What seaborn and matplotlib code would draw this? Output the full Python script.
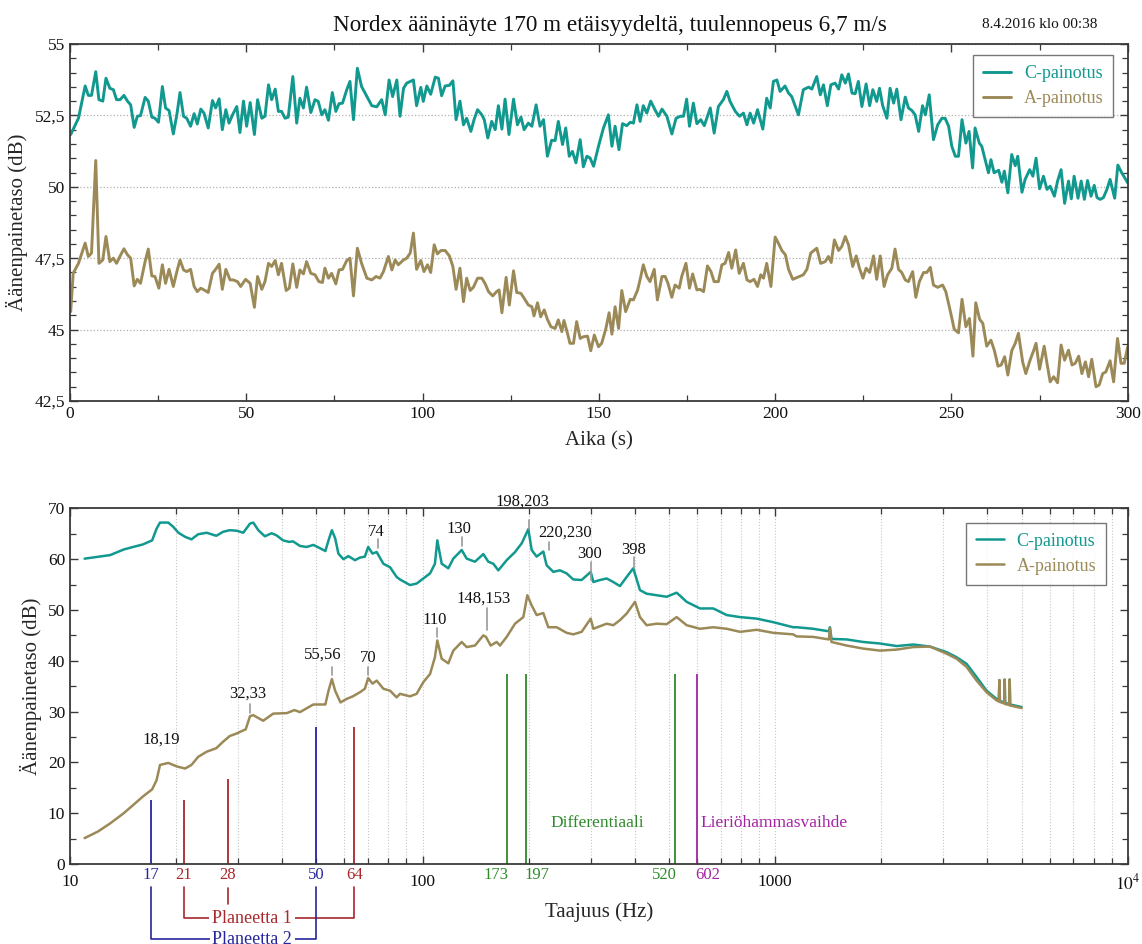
import numpy as np
import pandas as pd
import matplotlib
matplotlib.use("Agg")
import matplotlib.pyplot as plt
import seaborn as sns
from matplotlib.ticker import MultipleLocator, FixedLocator, FixedFormatter, FuncFormatter, LogLocator, NullFormatter

# ---------------- data: time series (top) ----------------
time_c = [0.2, 2.4, 4.3, 5.2, 6.1, 7.3, 8.2, 9.3, 10.2, 11.3, 12.3, 13.2, 14.2, 15.3, 16.3, 17.2, 18.2, 19.1, 20.0, 21.3,
          22.2, 23.2, 24.1, 25.1, 26.2, 27.1, 28.1, 29.3, 30.3, 31.2, 32.2, 33.1, 34.2, 35.2, 36.1, 37.1, 38.0, 39.2, 40.4, 41.3,
          42.3, 43.2, 44.2, 45.1, 46.1, 47.3, 48.2, 49.2, 50.1, 51.1, 52.3, 53.2, 54.4, 55.3, 56.3, 57.2, 58.2, 59.1, 60.0, 61.0,
          61.9, 63.2, 64.3, 65.2, 66.2, 67.1, 68.3, 69.5, 70.4, 71.4, 72.3, 73.3, 74.4, 75.4, 76.3, 77.3, 78.5, 79.4, 80.4, 81.5,
          82.7, 84.2, 85.6, 87.0, 88.4, 89.4, 90.5, 91.5, 92.7, 93.6, 94.6, 95.5, 97.4, 98.3, 99.5, 100.2, 101.2, 102.3, 103.6, 104.5,
          105.4, 106.4, 107.6, 108.6, 109.5, 110.6, 111.6, 112.5, 113.7, 114.6, 115.6, 116.8, 117.5, 118.5, 119.6, 120.6, 121.5, 122.5, 123.4, 124.5,
          125.8, 126.9, 127.9, 128.8, 130.0, 131.0, 132.2, 133.3, 134.3, 135.4, 136.6, 137.6, 138.5, 139.7, 140.6, 141.6, 142.5, 143.5, 144.7, 145.6,
          146.6, 147.5, 148.5, 149.9, 151.3, 152.7, 153.7, 154.6, 155.7, 156.7, 157.9, 158.9, 159.8, 160.8, 161.7, 162.6, 163.6, 164.7, 165.9, 166.9,
          167.9, 169.3, 170.7, 171.9, 173.1, 174.0, 174.9, 175.7, 176.8, 177.8, 178.9, 179.9, 181.6, 182.7, 183.9, 185.3, 186.3, 187.2, 188.7, 189.9,
          191.0, 192.0, 192.9, 193.9, 195.0, 196.5, 197.6, 198.6, 199.5, 200.5, 201.4, 202.8, 203.8, 204.7, 206.6, 208.0, 209.5, 210.4, 211.8, 212.8,
          213.7, 214.8, 215.8, 217.0, 218.0, 218.9, 219.9, 220.8, 221.8, 222.7, 223.6, 224.6, 225.8, 226.8, 227.7, 228.8, 229.6, 230.5, 231.7, 232.6,
          233.6, 234.5, 235.7, 236.9, 237.8, 238.8, 239.7, 240.7, 241.8, 242.6, 243.7, 244.9, 246.1, 247.3, 248.2, 249.2, 250.1, 251.1, 252.0, 253.0,
          254.1, 255.0, 256.0, 256.7, 257.9, 258.6, 259.6, 260.5, 261.2, 262.1, 263.4, 264.3, 265.0, 266.0, 267.1, 268.1, 268.8, 270.0, 270.9, 272.2,
          273.1, 274.0, 275.0, 276.1, 277.1, 278.0, 279.2, 280.1, 281.1, 282.1, 283.2, 284.0, 284.8, 285.9, 286.8, 287.7, 288.6, 289.6, 290.5, 291.3,
          292.2, 293.1, 294.1, 295.0, 296.3, 297.2, 298.3, 300.0]
level_c = [51.83, 52.4, 53.53, 53.2, 53.2, 54.03, 53.05, 53.0, 53.8, 53.45, 53.4, 53.05, 53.05, 53.2, 53.0, 52.87, 52.08, 52.47, 52.49, 53.13,
           53.0, 52.44, 52.4, 52.26, 53.51, 52.76, 52.67, 51.85, 52.52, 53.3, 52.47, 52.4, 52.12, 52.56, 52.2, 52.72, 52.58, 52.06, 53.02, 52.76,
           53.08, 52.0, 52.7, 52.23, 52.52, 52.81, 51.9, 53.0, 52.12, 52.95, 51.83, 53.05, 52.4, 52.47, 53.57, 53.05, 53.42, 52.64, 52.64, 52.4,
           52.44, 53.86, 52.23, 53.1, 52.76, 53.49, 52.6, 53.05, 52.99, 52.52, 52.7, 52.33, 53.3, 52.64, 52.91, 52.93, 53.4, 53.69, 52.35, 54.15,
           53.51, 53.16, 52.84, 52.8, 53.05, 52.52, 53.74, 53.16, 53.74, 52.47, 53.45, 53.63, 53.74, 52.84, 53.48, 52.99, 53.53, 53.24, 53.84, 53.8,
           53.19, 53.53, 53.55, 53.71, 52.35, 53.0, 52.17, 52.4, 51.94, 52.35, 52.7, 52.52, 52.35, 51.71, 52.29, 52.0, 52.84, 52.02, 53.07, 51.83,
           53.07, 52.17, 52.44, 52.0, 52.23, 52.12, 52.87, 52.12, 52.35, 51.07, 51.63, 51.62, 52.29, 51.48, 52.06, 51.07, 51.24, 50.84, 51.65, 50.7,
           51.07, 51.01, 50.72, 51.42, 52.06, 52.52, 51.42, 52.12, 51.3, 52.21, 52.14, 52.26, 52.23, 52.87, 52.29, 52.84, 52.58, 53.0, 52.7, 52.47,
           52.72, 52.47, 51.85, 52.4, 52.47, 52.47, 53.07, 52.12, 52.93, 52.21, 52.35, 52.14, 52.76, 51.88, 52.81, 53.05, 53.34, 52.99, 52.64, 52.47,
           52.58, 52.17, 52.58, 52.23, 52.7, 52.02, 53.1, 52.76, 53.69, 53.74, 53.34, 53.53, 53.28, 53.16, 52.52, 53.4, 53.49, 53.42, 53.86, 53.22,
           53.57, 52.84, 53.57, 53.63, 53.42, 53.92, 53.63, 53.95, 53.28, 53.26, 53.69, 52.81, 53.6, 52.84, 53.4, 52.99, 53.45, 52.84, 52.4, 53.45,
           52.93, 53.42, 52.35, 53.14, 52.76, 52.67, 52.52, 51.94, 52.84, 52.52, 53.22, 51.65, 52.17, 52.4, 52.4, 52.12, 51.42, 51.07, 51.07, 52.35,
           51.53, 51.94, 50.66, 52.06, 51.53, 51.42, 50.93, 50.49, 50.95, 50.49, 50.58, 50.16, 50.55, 49.79, 51.13, 50.74, 51.07, 49.81, 50.26, 50.6,
           50.37, 51.0, 49.93, 50.37, 49.91, 50.02, 49.67, 50.2, 50.6, 49.42, 50.2, 49.58, 50.37, 49.6, 50.2, 49.56, 50.22, 49.67, 50.05, 49.62,
           49.56, 49.62, 49.91, 50.26, 49.6, 50.76, 50.49, 50.14]

time_a = [0.2, 0.9, 2.4, 4.3, 5.2, 6.1, 7.3, 8.2, 9.3, 10.2, 11.3, 12.3, 13.2, 14.4, 15.3, 16.3, 17.2, 18.2, 19.1, 20.0,
          21.3, 22.2, 23.2, 24.1, 25.2, 26.2, 27.1, 28.1, 29.3, 30.3, 31.2, 32.2, 33.1, 34.2, 35.2, 36.1, 37.1, 38.0, 39.2, 40.4,
          41.3, 42.3, 43.2, 44.2, 45.4, 46.3, 47.5, 48.4, 49.8, 51.1, 52.3, 53.2, 54.4, 55.3, 56.3, 57.2, 58.2, 59.1, 60.0, 61.3,
          62.2, 63.2, 64.3, 65.2, 66.2, 67.1, 68.3, 69.5, 70.6, 71.6, 72.3, 73.3, 74.2, 75.4, 76.3, 77.3, 78.5, 79.4, 80.4, 81.5,
          82.7, 84.2, 85.6, 86.8, 87.9, 88.9, 90.3, 91.3, 92.2, 93.1, 94.6, 95.5, 96.5, 97.4, 98.3, 99.5, 100.4, 101.4, 102.3, 103.3,
          104.2, 105.2, 106.4, 107.6, 108.6, 109.5, 110.6, 111.6, 112.5, 113.5, 114.4, 115.6, 116.8, 117.7, 118.7, 119.9, 121.0, 121.7, 122.5, 123.7,
          124.6, 125.8, 126.7, 127.9, 128.8, 130.0, 131.0, 131.6, 132.6, 133.5, 134.5, 135.4, 136.4, 137.6, 138.5, 139.5, 140.1, 141.1, 141.8, 142.8,
          143.7, 144.7, 145.6, 146.8, 147.7, 148.7, 149.9, 150.8, 152.0, 152.9, 153.7, 154.6, 155.6, 156.5, 157.6, 158.9, 159.8, 161.0, 161.9, 162.6,
          163.6, 164.5, 165.7, 166.6, 167.9, 168.8, 169.6, 170.7, 171.6, 172.8, 173.5, 174.7, 175.7, 176.6, 177.8, 178.7, 179.7, 180.8, 181.8, 182.7,
          183.9, 184.9, 185.8, 186.8, 187.7, 188.8, 189.8, 191.0, 192.0, 192.9, 194.0, 195.0, 195.9, 196.7, 197.6, 198.8, 200.0, 200.9, 201.9, 202.9,
          203.8, 205.0, 206.9, 208.0, 209.0, 210.1, 211.8, 212.9, 214.2, 215.1, 215.9, 216.8, 218.0, 218.9, 219.9, 220.8, 222.0, 223.0, 223.9, 224.9,
          225.8, 226.8, 227.9, 228.8, 229.8, 230.9, 231.9, 233.1, 234.0, 235.0, 235.9, 236.9, 237.8, 239.0, 239.9, 240.9, 242.1, 243.0, 244.0, 244.9,
          246.1, 247.5, 248.4, 249.6, 250.8, 252.0, 253.0, 254.1, 255.1, 256.1, 256.9, 258.0, 258.9, 260.0, 261.2, 262.2, 263.2, 264.1, 265.1, 266.0,
          267.1, 268.1, 269.0, 270.2, 271.1, 272.3, 273.3, 274.0, 275.0, 276.3, 277.1, 278.0, 279.0, 280.1, 281.1, 282.1, 283.2, 284.2, 285.1, 286.1,
          287.0, 288.0, 288.9, 289.8, 291.0, 291.9, 292.9, 293.8, 295.0, 296.0, 297.1, 298.1, 299.0, 300.0]
level_a = [45.63, 46.97, 47.32, 48.03, 47.56, 47.68, 50.92, 47.32, 47.44, 48.26, 47.38, 47.5, 47.32, 47.62, 47.83, 47.62, 47.5, 46.53, 46.76, 46.62,
           47.38, 47.82, 46.88, 46.86, 46.45, 47.27, 46.62, 47.11, 46.51, 47.03, 47.44, 47.09, 47.03, 47.11, 46.51, 46.33, 46.45, 46.39, 46.3, 46.97,
           47.11, 47.29, 46.41, 47.11, 46.74, 46.74, 46.68, 46.51, 46.76, 46.62, 45.78, 46.86, 46.41, 46.68, 47.32, 47.21, 47.42, 46.92, 47.32, 46.37,
           46.45, 47.3, 46.48, 47.09, 46.95, 47.38, 46.97, 46.92, 46.68, 46.65, 47.15, 46.8, 46.97, 46.6, 47.09, 47.11, 47.42, 47.5, 46.18, 47.85,
           47.32, 46.8, 46.74, 46.86, 46.8, 47.03, 47.56, 47.09, 47.44, 47.27, 47.44, 47.5, 47.68, 48.38, 47.11, 47.42, 47.03, 47.27, 47.0, 47.97,
           47.65, 47.77, 47.77, 47.58, 47.21, 46.41, 47.15, 45.98, 46.8, 46.37, 46.48, 46.8, 46.8, 46.62, 46.33, 46.18, 46.33, 46.39, 45.59, 46.83,
           45.86, 47.06, 46.3, 46.27, 46.1, 45.86, 45.8, 45.48, 45.94, 45.45, 45.69, 45.36, 45.1, 45.04, 45.34, 44.93, 45.32, 44.87, 44.52, 44.52,
           45.28, 44.69, 44.75, 44.77, 44.26, 44.81, 44.4, 44.52, 45.04, 45.59, 44.84, 45.8, 45.04, 46.37, 45.63, 46.06, 46.04, 46.39, 46.86, 47.27,
           46.86, 46.68, 47.11, 46.04, 46.86, 46.86, 46.62, 46.13, 46.56, 46.45, 46.86, 47.32, 46.45, 46.95, 46.39, 46.41, 46.33, 47.23, 47.03, 46.68,
           46.68, 47.27, 47.32, 47.7, 47.15, 47.79, 46.97, 47.32, 46.74, 46.68, 46.76, 46.51, 46.92, 46.8, 47.32, 46.51, 48.24, 48.03, 47.77, 47.62,
           47.11, 46.76, 46.86, 46.92, 47.11, 47.68, 47.85, 47.32, 47.38, 47.56, 47.35, 48.14, 47.77, 47.91, 48.26, 47.97, 47.21, 47.58, 47.15, 46.8,
           47.15, 47.0, 47.58, 46.76, 47.58, 46.51, 46.92, 47.15, 47.82, 47.11, 47.0, 46.74, 46.68, 47.03, 46.13, 46.68, 47.0, 47.0, 47.18, 46.56,
           46.48, 46.56, 46.33, 45.69, 45.01, 44.89, 46.06, 45.1, 45.39, 44.07, 45.94, 45.36, 45.22, 44.42, 44.63, 44.26, 43.72, 43.76, 44.05, 43.41,
           44.26, 44.52, 44.87, 43.87, 43.46, 43.93, 44.26, 44.52, 43.61, 44.42, 43.82, 43.17, 43.35, 43.14, 44.46, 43.93, 44.28, 43.76, 43.82, 44.07,
           43.46, 43.87, 43.35, 43.96, 43.0, 43.06, 43.46, 43.52, 43.91, 43.17, 44.69, 43.82, 43.82, 44.4]

# ---------------- data: spectrum (bottom) ----------------
freq_c = [11.0, 13.0, 14.2, 15.1, 16.1, 17.1, 17.6, 18.0, 19.0, 19.6, 20.3, 21.2, 22.1, 23.1, 24.4, 26.0, 27.2, 28.4, 29.7, 31.0,
          32.4, 33.1, 34.2, 35.7, 37.3, 38.5, 40.2, 41.8, 42.9, 44.9, 46.9, 49.0, 50.7, 53.0, 54.1, 55.3, 56.5, 57.7, 59.6, 61.6,
          64.3, 66.4, 68.6, 70.1, 72.1, 74.1, 77.4, 80.9, 84.4, 86.3, 92.1, 96.2, 100.5, 105.0, 108.4, 110.1, 113.3, 118.3, 122.2, 129.1,
          133.4, 140.8, 148.7, 153.6, 158.7, 164.0, 173.2, 182.9, 191.0, 199.5, 203.9, 210.6, 220.0, 224.8, 234.9, 245.3, 256.2, 267.6, 282.6, 299.8,
          305.0, 318.6, 332.7, 347.5, 362.9, 379.2, 395.9, 413.6, 432.0, 461.2, 492.3, 525.6, 561.1, 611.9, 667.5, 728.6, 794.8, 886.3, 987.6, 1125,
          1151, 1282, 1420, 1430, 1445, 1595, 1778, 1983, 2211, 2465, 2748, 3064, 3271, 3491, 3727, 3979, 4247, 4310, 4325, 4340,
          4465, 4478, 4490, 4612, 4626, 4640, 5000]
spec_c = [60.1, 60.8, 61.9, 62.4, 62.9, 63.7, 66.0, 67.2, 67.2, 66.4, 65.2, 64.4, 63.9, 64.9, 65.2, 64.6, 65.4, 65.7, 65.6, 65.2,
          67.0, 67.2, 65.7, 64.5, 65.1, 64.7, 63.7, 63.4, 63.5, 62.6, 62.4, 62.8, 62.3, 61.6, 63.7, 65.7, 64.1, 61.1, 60.0, 60.6,
          59.8, 60.3, 60.5, 62.4, 61.1, 61.4, 59.1, 58.4, 56.5, 56.0, 54.9, 55.2, 56.2, 57.2, 59.1, 63.7, 59.1, 58.2, 60.1, 61.8,
          60.1, 59.5, 61.0, 59.5, 59.1, 57.8, 59.8, 61.4, 63.1, 65.9, 61.8, 60.5, 61.5, 58.8, 57.5, 57.8, 57.2, 56.0, 55.9, 57.5,
          55.5, 55.9, 56.2, 55.5, 54.7, 56.5, 58.2, 53.9, 53.2, 52.9, 52.6, 53.4, 51.6, 50.3, 50.3, 49.0, 48.6, 48.3, 47.6, 46.6,
          46.6, 46.3, 45.8, 46.6, 44.3, 44.2, 43.7, 43.4, 42.9, 43.2, 42.8, 41.7, 40.7, 39.4, 36.8, 34.1, 32.5, 32.2, 36.2, 32.1,
          31.8, 36.3, 31.7, 31.5, 36.3, 31.4, 30.9]

freq_a = [11.0, 12.0, 13.0, 14.2, 15.1, 16.1, 17.1, 17.6, 18.0, 19.0, 20.1, 21.2, 22.1, 23.1, 24.4, 26.0, 27.2, 28.4, 29.7, 31.0,
          31.5, 32.4, 33.1, 35.3, 37.7, 41.2, 43.3, 44.9, 49.0, 53.0, 54.1, 55.3, 56.5, 58.5, 60.9, 63.4, 66.4, 68.6, 70.1, 72.1,
          74.1, 77.4, 80.9, 84.4, 86.3, 92.1, 96.2, 100.5, 105.0, 108.4, 110.1, 113.3, 118.3, 122.2, 129.1, 133.4, 140.8, 148.7, 151.3, 156.0,
          162.2, 165.8, 173.2, 182.9, 193.1, 198.2, 203.9, 210.6, 220.0, 227.3, 240.1, 256.2, 267.6, 282.6, 299.8, 305.0, 318.6, 332.7, 347.5, 362.9,
          379.2, 400.4, 413.6, 432.0, 461.2, 492.3, 525.6, 561.1, 611.9, 667.5, 728.6, 794.8, 886.3, 987.6, 1125, 1151, 1282, 1420, 1430, 1445,
          1595, 1778, 1983, 2211, 2465, 2748, 3064, 3271, 3491, 3727, 3979, 4247, 4310, 4325, 4340, 4465, 4478, 4490, 4612, 4626,
          4640, 5000]
spec_a = [5.1, 6.4, 8.0, 10.0, 11.6, 13.3, 14.7, 16.5, 19.5, 19.9, 19.2, 18.8, 19.5, 21.1, 22.1, 22.8, 24.1, 25.2, 25.7, 26.3,
          26.5, 29.1, 29.3, 28.2, 29.6, 29.7, 30.3, 29.9, 31.4, 31.4, 34.1, 36.4, 34.1, 31.8, 32.5, 33.0, 33.8, 34.5, 36.6, 35.5,
          36.1, 34.5, 34.1, 32.8, 33.5, 33.0, 33.5, 35.8, 37.4, 40.7, 44.0, 40.4, 39.5, 42.0, 43.7, 42.7, 43.0, 45.0, 44.7, 43.0,
          43.7, 43.0, 44.7, 47.3, 48.6, 52.9, 50.9, 49.0, 49.4, 46.6, 46.6, 45.5, 45.2, 45.7, 48.3, 46.3, 46.8, 47.3, 47.0, 48.0,
          49.3, 51.6, 48.6, 47.0, 47.3, 47.2, 48.6, 47.0, 46.3, 46.6, 46.3, 45.7, 46.1, 45.5, 45.2, 44.8, 44.7, 44.2, 46.4, 43.7,
          43.0, 42.4, 42.0, 42.2, 42.7, 42.8, 41.4, 40.4, 38.8, 36.1, 33.8, 32.2, 32.0, 36.2, 31.9, 31.6, 36.3, 31.5, 31.3, 36.3,
          31.2, 30.7]

# peak annotations: text, text x (Hz), text y (dB), marker x (Hz), marker y0, marker y1
peak_labels = ["18,19", "32,33", "55,56", "70", "74", "110", "130", "148,153", "198,203", "220,230", "300", "398"]
peak_text_f = [18.2, 32.0, 52.1, 70.1, 73.8, 108.4, 127.1, 148.7, 192.3, 253.5, 298.4, 397.7]
peak_text_db = [24.4, 33.6, 41.3, 40.5, 65.4, 48.0, 65.9, 52.3, 71.3, 65.2, 61.1, 61.8]
peak_line_f = [None, 32.4, 55.3, 70.1, 74.6, 110.1, 129.1, 151.9, 200.8, 228.3, 300.0, 398.0]
peak_line_lo = [None, 29.8, 37.2, 37.2, 62.2, 44.7, 62.5, 46.1, 65.9, 61.8, 55.9, 58.2]
peak_line_hi = [None, 31.5, 38.8, 38.8, 64.0, 46.4, 64.4, 50.3, 67.8, 63.4, 59.5, 60.5]

# gear mesh frequencies
gear_f = [17, 21, 28, 50, 64, 173, 197, 520, 602]
gear_top = [12.6, 12.6, 16.7, 27.0, 27.0, 37.4, 37.4, 37.4, 37.4]
gear_group = ["p2", "p1", "p1", "p2", "p1", "diff", "diff", "diff", "lier"]
gear_label_align = ["center", "center", "center", "center", "center", "right", "left", "right", "left"]

C_COL = "#11998f"
A_COL = "#9b8a58"
GROUP_COL = {"p1": "#a8282c", "p2": "#26269c", "diff": "#2e8a2a", "lier": "#a424a4"}

# ---------------- styling ----------------
sns.set_style("ticks")
plt.rcParams["font.family"] = ["Liberation Serif", "DejaVu Serif"]
plt.rcParams["mathtext.fontset"] = "stix"

fig = plt.figure(figsize=(11.42, 9.44), dpi=100)
ax1 = fig.add_axes([0.0613, 0.5752, 0.9262, 0.3782])
ax2 = fig.add_axes([0.0613, 0.0847, 0.9262, 0.3768])

SPINE = "#3a3a3a"
for ax in (ax1, ax2):
    for s in ax.spines.values():
        s.set_color(SPINE)
        s.set_linewidth(1.3)
    ax.tick_params(which="both", direction="in", top=True, right=True, colors=SPINE,
                   labelcolor="#111111", labelsize=12.5)
    ax.tick_params(which="major", length=6, width=1.0)
    ax.tick_params(which="minor", length=4, width=0.9)


def style_legend(ax, anchor):
    leg = ax.legend(loc="upper right", bbox_to_anchor=anchor, borderaxespad=0, fontsize=13,
                    frameon=True, fancybox=False, edgecolor="#555555", handlelength=1.55,
                    borderpad=0.55, labelspacing=0.45, handletextpad=0.7)
    leg.get_frame().set_linewidth(1.0)
    for txt, ln in zip(leg.get_texts(), leg.get_lines()):
        txt.set_color(ln.get_color())
    return leg


# ---------------- top chart ----------------
df_c = pd.DataFrame({"t": time_c, "L": level_c})
df_a = pd.DataFrame({"t": time_a, "L": level_a})
sns.lineplot(data=df_c, x="t", y="L", ax=ax1, color=C_COL, lw=2.1, sort=False, estimator=None, label="C-painotus")
sns.lineplot(data=df_a, x="t", y="L", ax=ax1, color=A_COL, lw=2.1, sort=False, estimator=None, label="A-painotus")
ax1.set_xlim(0, 300)
ax1.set_ylim(42.5, 55)
ax1.xaxis.set_major_locator(MultipleLocator(50))
ax1.xaxis.set_minor_locator(MultipleLocator(25))
ax1.yaxis.set_major_locator(MultipleLocator(2.5))
ax1.yaxis.set_minor_locator(MultipleLocator(0.5))
ax1.yaxis.set_major_formatter(FuncFormatter(lambda v, p: f"{v:g}".replace(".", ",")))
ax1.grid(True, axis="y", which="major", ls=":", color="#b0b0b0", lw=0.9)
ax1.set_xlabel("Aika (s)", fontsize=15, labelpad=7)
ax1.set_ylabel("Äänenpainetaso (dB)", fontsize=15, labelpad=5)
style_legend(ax1, (0.9864, 0.9692))

fig.text(610 / 1142, 1 - 25 / 944, "Nordex ääninäyte 170 m etäisyydeltä, tuulennopeus 6,7 m/s",
         ha="center", va="center", fontsize=16.7, color="#111111")
fig.text(1040 / 1142, 1 - 25 / 944, "8.4.2016 klo 00:38", ha="center", va="center", fontsize=11, color="#111111")

# ---------------- bottom chart ----------------
ax2.set_xscale("log")
ax2.set_xlim(10, 1e4)
ax2.set_ylim(0, 70)
dfs_c = pd.DataFrame({"f": freq_c, "L": spec_c})
dfs_a = pd.DataFrame({"f": freq_a, "L": spec_a})
sns.lineplot(data=dfs_c, x="f", y="L", ax=ax2, color=C_COL, lw=1.8, sort=False, estimator=None, label="C-painotus")
sns.lineplot(data=dfs_a, x="f", y="L", ax=ax2, color=A_COL, lw=1.8, sort=False, estimator=None, label="A-painotus")
ax2.xaxis.set_major_locator(FixedLocator([10, 100, 1000, 10000]))
ax2.xaxis.set_major_formatter(FixedFormatter(["10", "100", "1000", "$10^4$"]))
ax2.xaxis.set_minor_locator(LogLocator(base=10, subs=np.arange(2, 10)))
ax2.xaxis.set_minor_formatter(NullFormatter())
ax2.yaxis.set_major_locator(MultipleLocator(10))
ax2.yaxis.set_minor_locator(MultipleLocator(5))
ax2.grid(True, axis="x", which="both", ls=":", color="#c8c8c8", lw=0.8)
ax2.tick_params(axis="x", which="major", pad=7)
ax2.set_xlabel("Taajuus (Hz)", fontsize=15, labelpad=6)
ax2.set_ylabel("Äänenpainetaso (dB)", fontsize=15, labelpad=4)
style_legend(ax2, (0.9795, 0.9595))

# peak labels
for lab, tf, tdb, lf, lo, hi in zip(peak_labels, peak_text_f, peak_text_db, peak_line_f, peak_line_lo, peak_line_hi):
    ax2.text(tf, tdb, lab, ha="center", va="center", fontsize=12, color="#111111", clip_on=False)
    if lf is not None:
        ax2.plot([lf, lf], [lo, hi], color="#9a9a9a", lw=1.2)

# gear lines and coloured labels below axis
xt = ax2.get_xaxis_transform()
for f, top, g, al in zip(gear_f, gear_top, gear_group, gear_label_align):
    col = GROUP_COL[g]
    ax2.vlines(f, 0, top, color=col, lw=1.3)
    xpos = f * (1.01 if al == "right" else (0.985 if al == "left" else 1.0))
    ax2.text(xpos, -0.032, str(f), transform=xt, ha=al, va="center", fontsize=12, color=col, clip_on=False)

# planet brackets
p1 = GROUP_COL["p1"]
p2 = GROUP_COL["p2"]
y_start, y_p1, y_p2 = -0.064, -0.153, -0.212
ax2.plot([21, 21, 64, 64], [y_start, y_p1, y_p1, y_start], transform=xt, color=p1, lw=1.2, clip_on=False)
ax2.plot([28, 28], [-0.068, -0.113], transform=xt, color=p1, lw=1.2, clip_on=False)
ax2.plot([17, 17, 50, 50], [y_start, y_p2, y_p2, y_start], transform=xt, color=p2, lw=1.2, clip_on=False)
ax2.text(32.8, y_p1, "Planeetta 1", transform=xt, ha="center", va="center", fontsize=13, color=p1, clip_on=False,
         bbox=dict(facecolor="white", edgecolor="none", pad=2))
ax2.text(32.9, y_p2, "Planeetta 2", transform=xt, ha="center", va="center", fontsize=13, color=p2, clip_on=False,
         bbox=dict(facecolor="white", edgecolor="none", pad=2))

ax2.text(230, 8.0, "Differentiaali", ha="left", va="center", fontsize=12.5, color=GROUP_COL["diff"])
ax2.text(615, 8.0, "Lieriöhammasvaihde", ha="left", va="center", fontsize=12.5, color=GROUP_COL["lier"])

fig.savefig("out.png", dpi=100)
